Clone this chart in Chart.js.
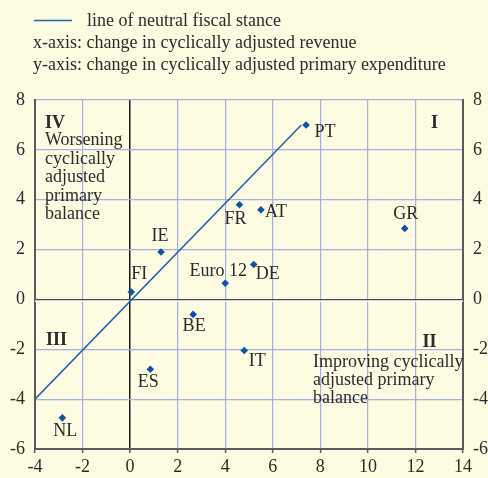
<!DOCTYPE html>
<html>
<head>
<meta charset="utf-8">
<script src="https://cdn.jsdelivr.net/npm/chart.js@4/dist/chart.umd.min.js"></script>
<style>
  html, body { margin: 0; padding: 0; background: #fefbe3; }
  #wrap { width: 488px; height: 478px; position: relative; }
</style>
</head>
<body>
<div id="wrap"><canvas id="c" width="488" height="478"></canvas></div>
<script>
// ---- data ----
const countries = ['PT', 'FI', 'IE', 'FR', 'AT', 'DE', 'Euro 12', 'BE', 'IT', 'ES', 'GR', 'NL'];
const revenueChange = [7.4, 0.05, 1.3, 4.6, 5.5, 5.2, 4.0, 2.65, 4.8, 0.85, 11.55, -2.85];
const expenditureChange = [7.0, 0.3, 1.9, 3.8, 3.6, 1.4, 0.65, -0.6, -2.05, -2.8, 2.85, -4.75];
const neutralLineX = [-4, 7.2];
const neutralLineY = [-4, 7.0];
const xTicks = [-4, -2, 0, 2, 4, 6, 8, 10, 12, 14];
const yTicks = [-6, -4, -2, 0, 2, 4, 6, 8];
const headerTexts = ['line of neutral fiscal stance',
  'x-axis: change in cyclically adjusted revenue',
  'y-axis: change in cyclically adjusted primary expenditure'];
const quadrantIV = ['Worsening', 'cyclically', 'adjusted', 'primary', 'balance'];
const quadrantII = ['Improving cyclically', 'adjusted primary', 'balance'];

// ---- styles / label placement ----
const labelOffsets = {
  'PT': [19, 7], 'FI': [8, -18], 'IE': [-1, -16], 'FR': [-4, 15], 'AT': [15, 3],
  'DE': [14, 10], 'Euro 12': [-7, -12], 'BE': [1, 12], 'IT': [13, 11], 'ES': [-2, 13],
  'GR': [1, -14], 'NL': [3, 13]
};
const SERIF = "'Liberation Serif', 'Times New Roman', serif";
const FS = 18;
const TEXT = '#2b2b2b';
const GRID = '#a3b0e0';
const AXIS = '#5a5a5a';
const BLUE = '#1f62ad';
const DOT = '#0b55a3';

const pointData = countries.map((c, i) => ({ x: revenueChange[i], y: expenditureChange[i], label: c }));
const lineData = neutralLineX.map((x, i) => ({ x: x, y: neutralLineY[i] }));

const bgPlugin = {
  id: 'bg',
  beforeDraw(chart) {
    const ctx = chart.ctx;
    ctx.save();
    ctx.fillStyle = '#fefbe3';
    ctx.fillRect(0, 0, chart.width, chart.height);
    ctx.restore();
  }
};

const textPlugin = {
  id: 'texts',
  beforeDatasetsDraw(chart) {
    const ctx = chart.ctx, ca = chart.chartArea;
    const ys = chart.scales.y;
    const y0 = ys.getPixelForValue(0);
    ctx.save();
    ctx.strokeStyle = '#ffffff';
    ctx.lineWidth = 1.5;
    ctx.beginPath();
    ctx.moveTo(ca.left, y0 + 1.8);
    ctx.lineTo(ca.right, y0 + 1.8);
    ctx.stroke();
    ctx.restore();
  },
  afterDraw(chart) {
    const ctx = chart.ctx, ca = chart.chartArea;
    const xs = chart.scales.x, ys = chart.scales.y;
    ctx.save();
    // header
    ctx.strokeStyle = BLUE;
    ctx.lineWidth = 1.5;
    ctx.beginPath();
    ctx.moveTo(34, 20.5);
    ctx.lineTo(72, 20.5);
    ctx.stroke();
    ctx.fillStyle = TEXT;
    ctx.font = FS + 'px ' + SERIF;
    ctx.textBaseline = 'middle';
    ctx.textAlign = 'left';
    ctx.fillText(headerTexts[0], 87, 21);
    ctx.fillText(headerTexts[1], 33, 43);
    ctx.fillText(headerTexts[2], 33, 65);

    // quadrant labels
    const top = ys.getPixelForValue(8);
    const left = ca.left;
    ctx.font = 'bold ' + FS + 'px ' + SERIF;
    ctx.textAlign = 'left';
    ctx.fillText('IV', left + 10, top + 23);
    ctx.fillText('III', left + 11, ys.getPixelForValue(0) + 41);
    ctx.textAlign = 'center';
    ctx.fillText('I', ca.right - 28.5, top + 23);
    ctx.fillText('II', ca.right - 33.5, ys.getPixelForValue(0) + 43);
    ctx.font = FS + 'px ' + SERIF;
    ctx.textAlign = 'left';
    quadrantIV.forEach((t, i) => ctx.fillText(t, left + 10, top + 40.5 + i * 18.5));
    quadrantII.forEach((t, i) => ctx.fillText(t, ca.right - 150, ys.getPixelForValue(0) + 63 + i * 18));

    // country labels
    ctx.textAlign = 'center';
    const meta = chart.getDatasetMeta(1);
    meta.data.forEach((el, i) => {
      const name = countries[i];
      const off = labelOffsets[name] || [0, -12];
      ctx.fillText(name, el.x + off[0], el.y + off[1]);
    });
    ctx.restore();
  }
};

const tickFont = { family: SERIF, size: FS };

new Chart(document.getElementById('c'), {
  data: {
    datasets: [
      {
        type: 'line',
        label: 'line of neutral fiscal stance',
        data: lineData,
        borderColor: BLUE,
        borderWidth: 1.5,
        pointRadius: 0,
        fill: false,
        tension: 0
      },
      {
        type: 'scatter',
        label: 'countries',
        data: pointData,
        pointStyle: 'rectRot',
        pointRadius: 3.8,
        backgroundColor: DOT,
        borderColor: DOT,
        borderWidth: 0
      }
    ]
  },
  options: {
    responsive: false,
    animation: false,
    devicePixelRatio: 1,
    layout: { padding: { top: 100, left: 0, right: 0, bottom: 0 } },
    plugins: { legend: { display: false }, tooltip: { enabled: false } },
    scales: {
      x: {
        type: 'linear',
        position: 'bottom',
        min: xTicks[0], max: xTicks[xTicks.length - 1],
        afterBuildTicks(s) { s.ticks = xTicks.map(v => ({ value: v })); },
        afterFit(s) { s.height = 29; },
        grid: {
          color: c => (c.tick && c.tick.value === 0) ? '#1a1a1a' : GRID,
          lineWidth: c => (c.tick && c.tick.value === 0) ? 1.5 : 1.2,
          tickColor: AXIS,
          tickLength: 4,
          tickWidth: 1.5,
          drawTicks: true
        },
        border: { display: true, color: AXIS, width: 2 },
        ticks: { font: tickFont, color: TEXT, padding: 3, maxRotation: 0, autoSkip: false }
      },
      y: {
        type: 'linear',
        position: 'left',
        min: yTicks[0], max: yTicks[yTicks.length - 1],
        afterBuildTicks(s) { s.ticks = yTicks.map(v => ({ value: v })); },
        afterFit(s) { s.width = 35; },
        grid: {
          color: c => (c.tick && c.tick.value === 0) ? '#4a4a4a' : GRID,
          lineWidth: c => (c.tick && c.tick.value === 0) ? 1.5 : 1.2,
          drawTicks: false
        },
        border: { display: true, color: AXIS, width: 2 },
        ticks: { font: tickFont, color: TEXT, padding: 10, autoSkip: false }
      },
      y2: {
        type: 'linear',
        position: 'right',
        min: yTicks[0], max: yTicks[yTicks.length - 1],
        afterBuildTicks(s) { s.ticks = yTicks.map(v => ({ value: v })); },
        afterFit(s) { s.width = 25; },
        grid: { drawOnChartArea: false, drawTicks: false },
        border: { display: true, color: AXIS, width: 2 },
        ticks: { font: tickFont, color: TEXT, padding: 10, autoSkip: false }
      }
    }
  },
  plugins: [bgPlugin, textPlugin]
});
</script>
</body>
</html>
